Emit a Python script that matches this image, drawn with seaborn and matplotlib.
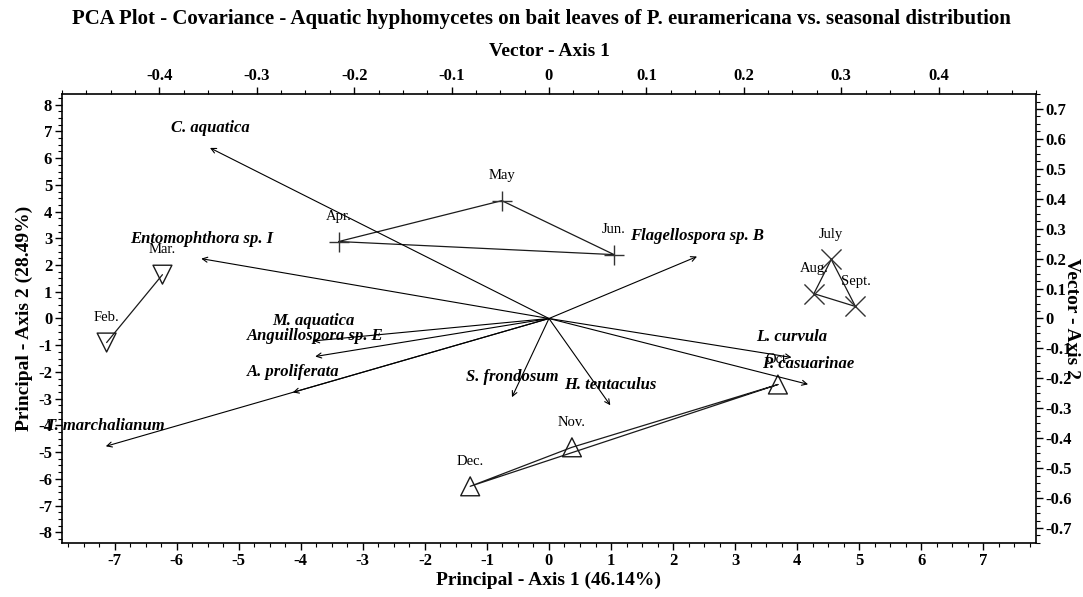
import matplotlib
matplotlib.use("Agg")
import matplotlib.pyplot as plt
import seaborn as sns
import pandas as pd
from matplotlib.ticker import MultipleLocator, FuncFormatter

# sample scores (principal axes)
months = ["Feb.", "Mar.", "Apr.", "May", "Jun.", "July", "Aug.", "Sept.", "Oct.", "Nov.", "Dec."]
pc1 = [-7.13, -6.23, -3.39, -0.76, 1.05, 4.55, 4.27, 4.94, 3.69, 0.37, -1.27]
pc2 = [-0.90, 1.64, 2.88, 4.41, 2.39, 2.21, 0.93, 0.45, -2.47, -4.82, -6.28]
season = ["winter", "winter", "spring", "spring", "spring",
          "summer", "summer", "summer", "autumn", "autumn", "autumn"]

# species loadings (vector axes)
species = ["C. aquatica", "Entomophthora sp. I", "Flagellospora sp. B", "M. aquatica",
           "Anguillospora sp. E", "A. proliferata", "T. marchalianum", "S. frondosum",
           "H. tentaculus", "L. curvula", "P. casuarinae"]
vec1 = [-0.348, -0.357, 0.152, -0.242, -0.240, -0.263, -0.455, -0.038, 0.063, 0.249, 0.266]
vec2 = [0.570, 0.200, 0.207, -0.075, -0.127, -0.247, -0.427, -0.263, -0.290, -0.130, -0.220]

df = pd.DataFrame({"month": months, "pc1": pc1, "pc2": pc2, "season": season})

sns.set_theme(style="ticks")
plt.rcParams["font.family"] = ["Liberation Serif", "DejaVu Serif"]
plt.rcParams["axes.unicode_minus"] = False
plt.rcParams["xtick.direction"] = "out"
plt.rcParams["ytick.direction"] = "out"
for k in ["text.color", "axes.labelcolor", "xtick.color", "ytick.color", "axes.edgecolor"]:
    plt.rcParams[k] = "black"

fig = plt.figure(figsize=(10.83, 5.97), dpi=100)
pos = [0.0572, 0.0905, 0.8994, 0.752]
ax = fig.add_axes(pos)
axv = fig.add_axes(pos, frameon=False)
axv.patch.set_visible(False)

ax.set_xlim(-7.85, 7.85)
ax.set_ylim(-8.4, 8.4)
axv.set_xlim(-0.5, 0.5)
axv.set_ylim(-0.75, 0.75)

# season polygons
groups = {"winter": ("v", False), "spring": ("+", True), "summer": ("x", True), "autumn": ("^", True)}
for name, (mk, closed) in groups.items():
    g = df[df["season"] == name]
    xs, ys = list(g["pc1"]), list(g["pc2"])
    if closed:
        xs.append(xs[0])
        ys.append(ys[0])
    ax.plot(xs, ys, color="#1a1a1a", lw=0.9, zorder=2)
    if mk in ("v", "^"):
        sns.scatterplot(data=g, x="pc1", y="pc2", marker=mk, s=185, facecolor="none",
                        edgecolor="#1a1a1a", linewidth=1.0, ax=ax, zorder=3)
    else:
        sns.scatterplot(data=g, x="pc1", y="pc2", marker=mk, s=210, color="#333333",
                        linewidth=1.0, ax=ax, zorder=3)

for m, x, y in zip(months, pc1, pc2):
    ax.annotate(m, (x, y), xytext=(0, 18), textcoords="offset points", ha="center",
                va="center", fontsize=10.5)

# species vectors
for s, x, y in zip(species, vec1, vec2):
    axv.annotate("", xy=(x, y), xytext=(0, 0),
                 arrowprops=dict(arrowstyle="->", lw=0.8, color="black",
                                 shrinkA=0, shrinkB=0, mutation_scale=9))
    axv.annotate(s, (x, y), xytext=(0, 14.5), textcoords="offset points", ha="center",
                 va="center", fontsize=12, fontweight="bold", fontstyle="italic")

fmt = FuncFormatter(lambda v, p: "0" if abs(v) < 1e-9 else f"{v:.1f}")

ax.xaxis.set_major_locator(MultipleLocator(1))
ax.xaxis.set_minor_locator(MultipleLocator(0.25))
ax.yaxis.set_major_locator(MultipleLocator(1))
ax.yaxis.set_minor_locator(MultipleLocator(0.25))
ax.tick_params(which="major", length=5, width=1, labelsize=12, pad=2)
ax.tick_params(which="minor", length=3, width=0.8)
ax.xaxis.set_major_formatter(FuncFormatter(lambda v, p: f"{v:.0f}"))
ax.yaxis.set_major_formatter(FuncFormatter(lambda v, p: f"{v:.0f}"))
for lab in ax.get_xticklabels() + ax.get_yticklabels():
    lab.set_fontweight("bold")

axv.xaxis.tick_top()
axv.yaxis.tick_right()
axv.xaxis.set_label_position("top")
axv.yaxis.set_label_position("right")
axv.xaxis.set_minor_locator(MultipleLocator(0.025))
axv.yaxis.set_minor_locator(MultipleLocator(0.025))
axv.set_xticks([t / 10 for t in range(-4, 5)])
axv.set_yticks([t / 10 for t in range(-7, 8)])
axv.xaxis.set_major_formatter(fmt)
axv.yaxis.set_major_formatter(fmt)
axv.tick_params(which="major", length=5, width=1, labelsize=12, pad=2)
axv.tick_params(which="minor", length=3, width=0.8)
for lab in axv.get_xticklabels() + axv.get_yticklabels():
    lab.set_fontweight("bold")

for sp in ax.spines.values():
    sp.set_visible(True)
    sp.set_linewidth(1.2)
    sp.set_color("black")

ax.set_xlabel("Principal - Axis 1 (46.14%)", fontsize=14, fontweight="bold", labelpad=2)
ax.set_ylabel("Principal - Axis 2 (28.49%)", fontsize=14, fontweight="bold", labelpad=4)
axv.set_xlabel("Vector - Axis 1", fontsize=14, fontweight="bold", labelpad=9)
axv.set_ylabel("Vector - Axis 2", fontsize=14, fontweight="bold", rotation=270, va="center")
axv.yaxis.set_label_coords(1.036, 0.5)

fig.suptitle("PCA Plot - Covariance - Aquatic hyphomycetes on bait leaves of P. euramericana "
             "vs. seasonal distribution", fontsize=15, fontweight="bold", y=0.985)

fig.savefig("out.png", dpi=100)
